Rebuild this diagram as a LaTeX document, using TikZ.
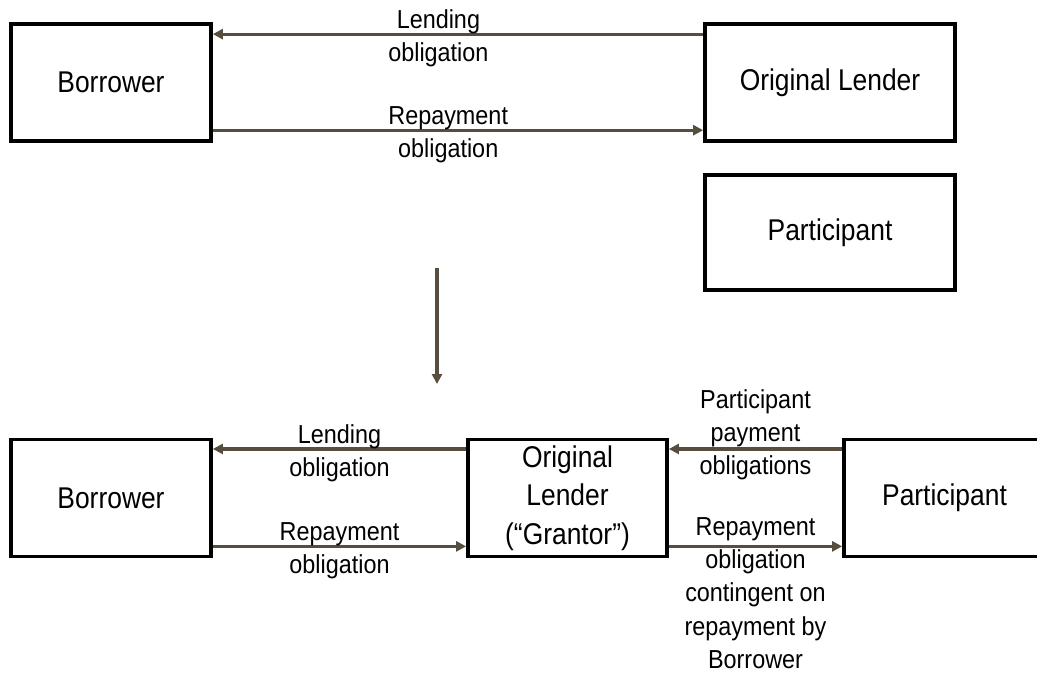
\documentclass[tikz,border=0pt]{standalone}
\usepackage{fontspec}
\setmainfont{Liberation Sans}
\newfontfamily\partyfont[FakeStretch=0.88]{Liberation Sans}
\newfontfamily\oblfont[FakeStretch=0.9]{Liberation Sans}
\usetikzlibrary{arrows.meta}
\definecolor{oblbrown}{HTML}{574E3F}

\begin{document}
\begin{tikzpicture}[x=0.75pt,y=-0.75pt,
    party/.style={draw=black,line width=2.8pt,minimum height=87.75pt,inner sep=0pt,
      align=center,font=\partyfont\fontsize{22.5}{29}\selectfont},
    obl/.style={draw=oblbrown,line width=2.3pt,-{Triangle[length=7.5pt,width=7.5pt]}},
    obltext/.style={align=center,inner sep=0pt,font=\oblfont\fontsize{19.5}{25}\selectfont}]
  \clip (0,0) rectangle (1037,673);

  \node[party,minimum width=150pt] (bor1) at (111,82.5) {Borrower};
  \node[party,minimum width=187.5pt] (ol1) at (830,82.5) {Original Lender};
  \node[party,minimum width=187.5pt,minimum height=86.25pt] (par1) at (830,232.5) {Participant};

  \draw[obl] ([yshift=-9pt]ol1.north west) -- node[obltext,pos=.54,yshift=-3.2pt] {Lending\\obligation} ([yshift=-9pt]bor1.north east);
  \draw[obl] ([yshift=9.5pt]bor1.south east) -- node[obltext,pos=.48,yshift=-3.2pt] {Repayment\\obligation} ([yshift=9.5pt]ol1.south west);

  \coordinate (down1) at (437,268);
  \coordinate (down2) at (437,384);
  \draw[obl] (down1) -- (down2);

  \node[party,minimum width=150pt] (bor2) at (111,498) {Borrower};
  \node[party,minimum width=149.25pt] (ol2) at (567.5,498) {Original\\Lender\\(“Grantor”)};
  \node[party,minimum width=150.75pt] (par2) at (944.5,498) {Participant};

  \draw[obl] ([yshift=-8.5pt]ol2.north west) -- node[obltext,yshift=-3.2pt] {Lending\\obligation} ([yshift=-8.5pt]bor2.north east);
  \draw[obl] ([yshift=9pt]bor2.south east) -- node[obltext,yshift=-3.2pt] {Repayment\\obligation} ([yshift=9pt]ol2.south west);
  \draw[obl] ([yshift=-8.5pt]par2.north west) -- node[obltext,yshift=10.6pt] {Participant\\payment\\obligations} ([yshift=-8.5pt]ol2.north east);
  \draw[obl] ([yshift=9pt]ol2.south east) -- node[obltext,yshift=-35pt] {Repayment\\obligation\\contingent on\\repayment by\\Borrower} ([yshift=9pt]par2.south west);
\end{tikzpicture}
\end{document}
